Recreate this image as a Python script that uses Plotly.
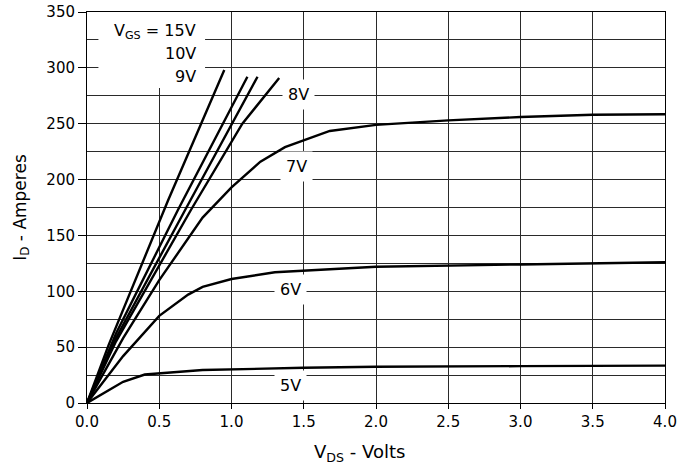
import plotly.graph_objects as go

# ---- data ----
vds_15 = [0.0, 0.15, 0.56, 0.95]
id_15 = [0, 52, 181, 298]

vds_10 = [0.0, 0.2, 0.63, 1.11]
id_10 = [0, 62, 173, 292]

vds_9 = [0.0, 0.2, 0.68, 1.18]
id_9 = [0, 58, 173, 292]

vds_8 = [0.0, 0.2, 0.72, 1.075, 1.33]
id_8 = [0, 55, 173, 250, 291]

vds_7 = [0.0, 0.25, 0.5, 0.8, 1.0, 1.2, 1.37, 1.68, 2.0, 2.5, 3.0, 3.5, 4.0]
id_7 = [0, 58, 110, 166, 193, 216, 229, 243.5, 249, 253, 256, 258, 258.5]

vds_6 = [0.0, 0.25, 0.5, 0.7, 0.8, 1.0, 1.3, 2.0, 3.0, 4.0]
id_6 = [0, 42, 78, 97, 104, 111, 117, 122, 124, 126]

vds_5 = [0.0, 0.25, 0.4, 0.8, 1.5, 2.0, 3.0, 4.0]
id_5 = [0, 19, 25.5, 29.5, 31.5, 32.5, 33, 33.5]

curves = [
    ("15V", vds_15, id_15),
    ("10V", vds_10, id_10),
    ("9V", vds_9, id_9),
    ("8V", vds_8, id_8),
    ("7V", vds_7, id_7),
    ("6V", vds_6, id_6),
    ("5V", vds_5, id_5),
]

x_ticks = [0.0, 0.5, 1.0, 1.5, 2.0, 2.5, 3.0, 3.5, 4.0]
y_ticks = [0, 50, 100, 150, 200, 250, 300, 350]

x_title = "V<sub>DS</sub> - Volts"
y_title = "I<sub>D</sub> - Amperes"

FONT = "DejaVu Sans, Liberation Sans, Arial, sans-serif"
GRID = "#2a2a2a"

fig = go.Figure()
for name, xs, ys in curves:
    fig.add_trace(go.Scatter(x=xs, y=ys, mode="lines", name=name,
                             line=dict(color="black", width=2.4),
                             showlegend=False, hoverinfo="skip"))

# white box behind the V_GS label block (between grid and traces)
fig.add_shape(type="rect", xref="x", yref="y", x0=0.079, x1=0.817, y0=282, y1=350,
              fillcolor="white", line=dict(width=0), layer="between")

label_font = dict(family=FONT, size=16, color="black")
fig.add_annotation(x=0.77, y=332.5, xref="x", yref="y", text="V<sub>GS</sub> = 15V",
                   showarrow=False, xanchor="right", yanchor="middle", font=label_font)
fig.add_annotation(x=0.77, y=312.5, xref="x", yref="y", text="10V",
                   showarrow=False, xanchor="right", yanchor="middle", font=label_font)
fig.add_annotation(x=0.77, y=292.6, xref="x", yref="y", text="9V",
                   showarrow=False, xanchor="right", yanchor="middle", font=label_font)

for txt, lx, ly in [("8V", 1.462, 276.6), ("7V", 1.453, 211.5),
                    ("6V", 1.407, 101.6), ("5V", 1.407, 15.9)]:
    fig.add_annotation(x=lx, y=ly, xref="x", yref="y", text=txt, showarrow=False,
                       xanchor="center", yanchor="middle", font=label_font,
                       bgcolor="white", borderpad=5)

# x-axis title placed as in the reference (slightly left of centre)
fig.add_annotation(x=0.472, y=-0.128, xref="paper", yref="paper", text=x_title,
                   showarrow=False, xanchor="center", yanchor="middle",
                   font=dict(family=FONT, size=18, color="black"))

fig.update_layout(
    width=695, height=473,
    margin=dict(l=87, r=30, t=12, b=70, autoexpand=False),
    paper_bgcolor="white", plot_bgcolor="white",
    font=dict(family=FONT, size=15, color="black"),
)
fig.update_xaxes(
    range=[0, 4], tickvals=x_ticks, ticktext=[f"{v:.1f}" for v in x_ticks],
    tickfont=dict(family=FONT, size=15),
    showgrid=True, gridcolor=GRID, gridwidth=1,
    showline=True, linecolor="black", linewidth=1, mirror=True,
    ticks="outside", ticklen=5, tickcolor="black",
    zeroline=False, automargin=False,
)
fig.update_yaxes(
    range=[0, 350], tickvals=y_ticks,
    tickfont=dict(family=FONT, size=15),
    showgrid=True, gridcolor=GRID, gridwidth=1,
    minor=dict(dtick=25, tick0=0, showgrid=True, gridcolor=GRID, gridwidth=1, ticks=""),
    showline=True, linecolor="black", linewidth=1, mirror=True,
    ticks="outside", ticklen=8, tickcolor="black",
    zeroline=False, automargin=False,
    title=dict(text=y_title, font=dict(family=FONT, size=17), standoff=15),
)

fig.write_html("out.html", config={"displayModeBar": False},
               post_script="document.body.style.margin='0';")
